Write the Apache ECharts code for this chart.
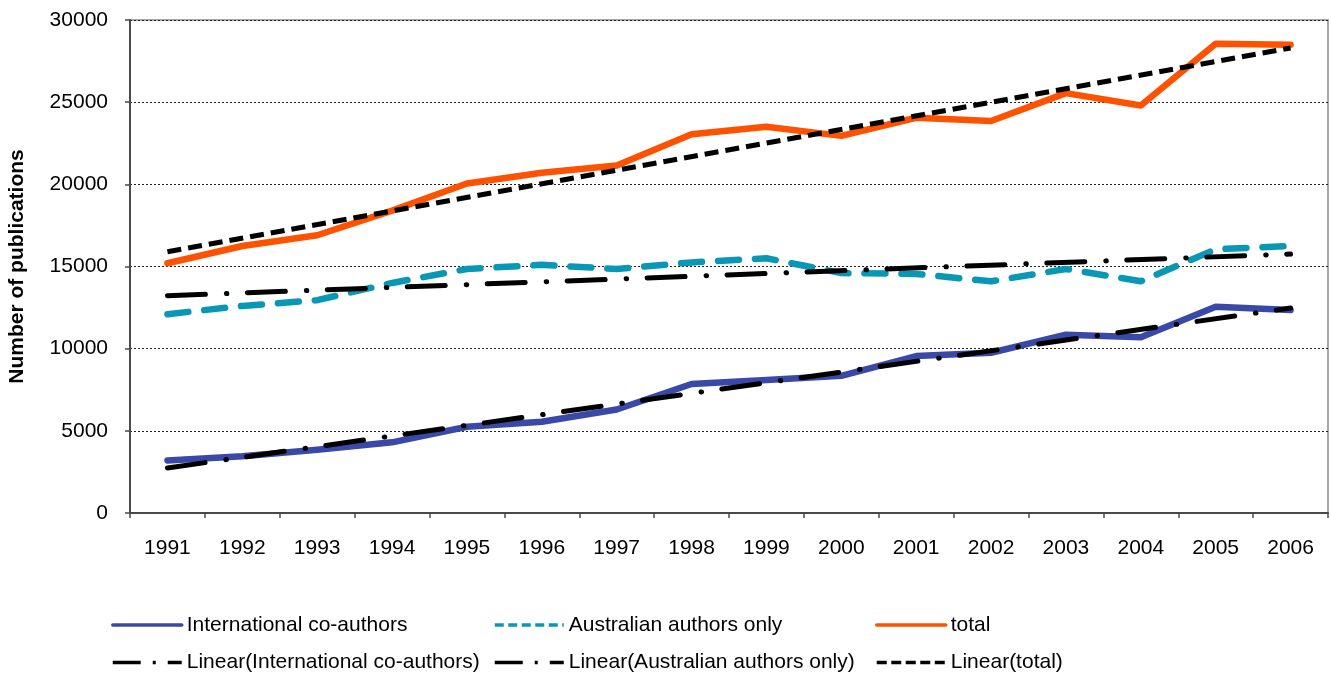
<!DOCTYPE html>
<html>
<head>
<meta charset="utf-8">
<script src="https://cdn.jsdelivr.net/npm/echarts@6/dist/echarts.min.js"></script>
<style>
html,body{margin:0;padding:0;background:#fff;}
#chart{width:1331px;height:675px;}
</style>
</head>
<body>
<div id="chart"></div>
<script>
// ---- data ----
var years = ['1991','1992','1993','1994','1995','1996','1997','1998','1999','2000','2001','2002','2003','2004','2005','2006'];
var international = [3200, 3450, 3850, 4300, 5250, 5550, 6300, 7850, 8100, 8350, 9550, 9750, 10850, 10700, 12550, 12350];
var australian    = [12100, 12600, 12950, 14000, 14850, 15100, 14850, 15250, 15500, 14600, 14550, 14100, 14850, 14100, 16050, 16250];
var total         = [15200, 16250, 16900, 18400, 20050, 20700, 21150, 23050, 23500, 22950, 24050, 23850, 25550, 24800, 28550, 28500];
// trend lines: values read at first and last year
var trendInternationalEnds = [2740, 12470];
var trendAustralianEnds    = [13220, 15760];
var trendTotalEnds         = [15900, 28300];
var yTicks = [0, 5000, 10000, 15000, 20000, 25000, 30000];
var seriesNames = ['International co-authors','Australian authors only','total',
  'Linear(International co-authors)','Linear(Australian authors only)','Linear(total)'];

function endsToSeries(ends){
  return years.map(function(y,i){
    if(i===0) return ends[0];
    if(i===years.length-1) return ends[1];
    return null;
  });
}

var FONT = 'Liberation Sans, Arial, Helvetica, sans-serif';
var chart = echarts.init(document.getElementById('chart'), null, {renderer:'canvas'});

function legendAt(name, left, top, lineStyle){
  return {
    data:[name], left:left, top:top, padding:0, itemWidth:69, itemHeight:14,
    selectedMode:false,
    textStyle:{fontFamily:FONT, fontSize:21, color:'#000'},
    itemStyle:{opacity:0, borderWidth:0},
    lineStyle: lineStyle
  };
}

var BLUE = '#3a48a8', TEAL = '#0897b5', ORANGE = '#ff5200';

var option = {
  animation:false,
  backgroundColor:'#fff',
  grid:{left:130, right:3, top:20, bottom:162, show:true, borderColor:'#a8a8a8', borderWidth:2,
        containLabel:false, outerBoundsMode:'none'},
  legend:[
    legendAt(seriesNames[0], 111, 614.5, {width:3.5}),
    legendAt(seriesNames[1], 493, 614.5, {width:3.5, type:[9,4.5], cap:'butt'}),
    legendAt(seriesNames[2], 875, 614.5, {width:3.5}),
    legendAt(seriesNames[3], 111, 652, {width:3.5, type:[28,12,3,12,14,30], cap:'butt'}),
    legendAt(seriesNames[4], 493, 652, {width:3.5, type:[28,12,3,12,14,30], cap:'butt'}),
    legendAt(seriesNames[5], 875, 652, {width:3.5, type:[10,4.5], cap:'butt'})
  ],
  xAxis:{
    type:'category', data:years, boundaryGap:true,
    axisLine:{show:true, lineStyle:{color:'#4a4a4a', width:2}},
    axisTick:{show:true, inside:false, length:5, interval:0, alignWithLabel:false, lineStyle:{color:'#4a4a4a', width:1.5}},
    axisLabel:{interval:0, margin:25, fontFamily:FONT, fontSize:21, color:'#000'},
    splitLine:{show:false}
  },
  yAxis:{
    type:'value', min:yTicks[0], max:yTicks[yTicks.length-1], interval:yTicks[1]-yTicks[0],
    name:'Number of publications', nameLocation:'middle', nameGap:102, nameRotate:90,
    nameTextStyle:{fontFamily:FONT, fontSize:21, fontWeight:'bold', color:'#000'},
    axisLine:{show:true, lineStyle:{color:'#4a4a4a', width:2}},
    axisTick:{show:true, inside:false, length:5, lineStyle:{color:'#4a4a4a', width:1.5}},
    axisLabel:{margin:22, fontFamily:FONT, fontSize:21, color:'#000',
      formatter:function(v){ return String(v); }},
    splitLine:{show:true, lineStyle:{color:'#222', width:1, type:[2,2]}}
  },
  series:[
    {name:seriesNames[0], type:'line', data:international, symbol:'none', z:2,
      lineStyle:{color:BLUE, width:6.5, join:'round', cap:'round'}, itemStyle:{color:BLUE}},
    {name:seriesNames[1], type:'line', data:australian, symbol:'none', z:2,
      lineStyle:{color:TEAL, width:6.5, type:[21,16], join:'round', cap:'round'}, itemStyle:{color:TEAL}},
    {name:seriesNames[2], type:'line', data:total, symbol:'none', z:2,
      lineStyle:{color:ORANGE, width:6.5, join:'round', cap:'round'}, itemStyle:{color:ORANGE}},
    {name:seriesNames[3], type:'line', data:endsToSeries(trendInternationalEnds), connectNulls:true, symbol:'none', z:3,
      lineStyle:{color:'#000', width:5, type:[38,21,0.5,20.5], cap:'round'}, itemStyle:{color:'#000'}},
    {name:seriesNames[4], type:'line', data:endsToSeries(trendAustralianEnds), connectNulls:true, symbol:'none', z:3,
      lineStyle:{color:'#000', width:5, type:[38,21,0.5,20.5], cap:'round'}, itemStyle:{color:'#000'}},
    {name:seriesNames[5], type:'line', data:endsToSeries(trendTotalEnds), connectNulls:true, symbol:'none', z:3,
      lineStyle:{color:'#000', width:5, type:[14,7], cap:'butt'}, itemStyle:{color:'#000'}}
  ]
};
chart.setOption(option);
</script>
</body>
</html>
